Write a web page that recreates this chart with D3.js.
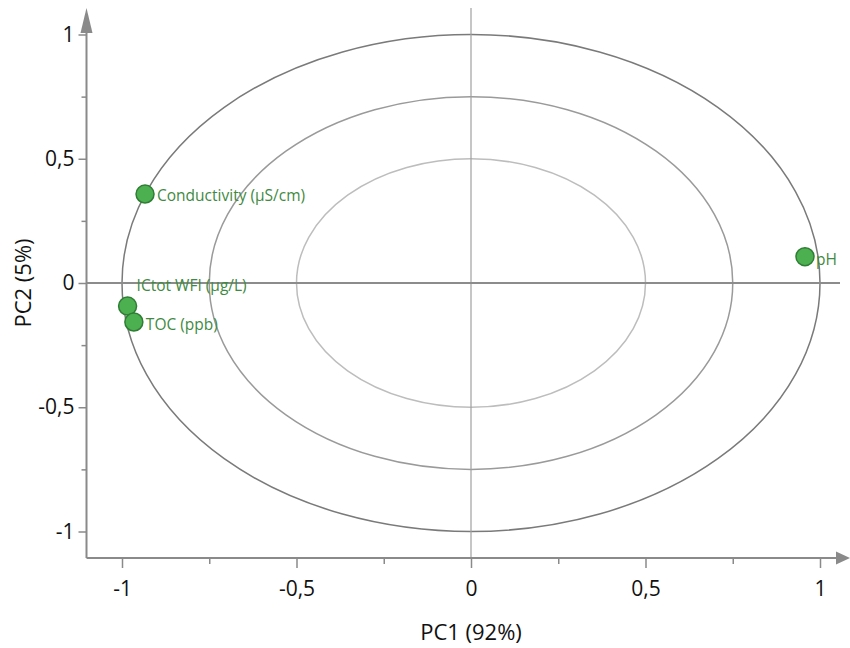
<!DOCTYPE html>
<html>
<head>
<meta charset="utf-8">
<script src="https://cdn.jsdelivr.net/npm/d3@7"></script>
<style>
  html, body { margin: 0; padding: 0; background: #fff; }
  svg { display: block; }
  text { font-family: "Open Sans", "Noto Sans", sans-serif; }
</style>
</head>
<body>
<svg id="chart" width="850" height="648"></svg>
<script>
// Correlation loadings on the first two principal components
const variables = ["Conductivity (µS/cm)", "ICtot WFI (µg/L)", "TOC (ppb)", "pH"];
const pc1 = [-0.934, -0.984, -0.966, 0.957];
const pc2 = [0.358, -0.093, -0.157, 0.106];
// label placement relative to the point: [dx, dy]
const labelOffsets = [[12, 1], [9, -21], [12, 2], [11, 2]];

const majorTicks = [-1, -0.5, 0, 0.5, 1];
const minorTicks = [-0.75, -0.25, 0.25, 0.75];
// correlation circles drawn at these radii
const radii = [1, 0.75, 0.5];
const radiusColors = ["#7a7a7a", "#9a9a9a", "#bdbdbd"];
const xTitle = "PC1 (92%)";
const yTitle = "PC2 (5%)";

const svg = d3.select("#chart");
const x = d3.scaleLinear().domain([-1, 1]).range([122, 820]);
const y = d3.scaleLinear().domain([-1, 1]).range([531.5, 34.5]);
const axisX = 86.5, axisY = 558;
const fmt = d => String(d).replace(".", ",");

// correlation circles
svg.append("g").selectAll("ellipse").data(radii).join("ellipse")
  .attr("cx", x(0)).attr("cy", y(0))
  .attr("rx", r => x(r) - x(0))
  .attr("ry", r => y(0) - y(r))
  .attr("fill", "none")
  .attr("stroke", (r, i) => radiusColors[i])
  .attr("stroke-width", 1.5);

// origin cross lines
svg.append("line").attr("x1", x(0)).attr("x2", x(0)).attr("y1", 8).attr("y2", axisY)
  .attr("stroke", "#a0a0a0").attr("stroke-width", 1.2);
svg.append("line").attr("x1", axisX).attr("x2", 840).attr("y1", y(0)).attr("y2", y(0))
  .attr("stroke", "#8c8c8c").attr("stroke-width", 2);

// axes
const axisColor = "#8a8a8a";
const gx = svg.append("g").attr("transform", `translate(0,${axisY})`);
gx.call(d3.axisBottom(x).tickValues(majorTicks).tickFormat(fmt).tickSize(10).tickPadding(13));
gx.append("g").call(d3.axisBottom(x).tickValues(minorTicks).tickFormat("").tickSize(6));
const gy = svg.append("g").attr("transform", `translate(${axisX},0)`);
gy.call(d3.axisLeft(y).tickValues(majorTicks).tickFormat(fmt).tickSize(8).tickPadding(4));
gy.append("g").call(d3.axisLeft(y).tickValues(minorTicks).tickFormat("").tickSize(5));

svg.selectAll(".domain").remove();
svg.selectAll(".tick line").attr("stroke", axisColor).attr("stroke-width", 1.5);
svg.selectAll(".tick text").attr("fill", "#111").style("font-size", "21px");

svg.append("line").attr("x1", axisX).attr("x2", axisX).attr("y1", 30).attr("y2", axisY)
  .attr("stroke", axisColor).attr("stroke-width", 2);
svg.append("line").attr("x1", axisX).attr("x2", 838).attr("y1", axisY).attr("y2", axisY)
  .attr("stroke", axisColor).attr("stroke-width", 2);
// arrow heads
svg.append("path").attr("d", `M${axisX},8 L${axisX + 6},33 L${axisX - 6},33 Z`).attr("fill", axisColor);
svg.append("path").attr("d", `M850,${axisY} L836,${axisY - 6.5} L836,${axisY + 6.5} Z`).attr("fill", axisColor);

// axis titles
svg.append("text").attr("x", x(0)).attr("y", 640).attr("text-anchor", "middle")
  .attr("fill", "#111").style("font-size", "22px").text(xTitle);
svg.append("text").attr("transform", `translate(31,${y(0)}) rotate(-90)`).attr("text-anchor", "middle")
  .attr("fill", "#111").style("font-size", "22px").text(yTitle);

// loadings
const pts = variables.map((v, i) => ({ name: v, px: pc1[i], py: pc2[i], off: labelOffsets[i] }));
const g = svg.append("g");
g.selectAll("circle").data(pts).join("circle")
  .attr("cx", d => x(d.px)).attr("cy", d => y(d.py)).attr("r", 9)
  .attr("fill", "#4caf50").attr("stroke", "#2f7d34").attr("stroke-width", 1.5);
g.selectAll("text").data(pts).join("text")
  .attr("x", d => x(d.px) + d.off[0]).attr("y", d => y(d.py) + d.off[1])
  .attr("dominant-baseline", "central")
  .attr("fill", "#3f8a3f").style("font-size", "15.5px")
  .text(d => d.name);
</script>
</body>
</html>
